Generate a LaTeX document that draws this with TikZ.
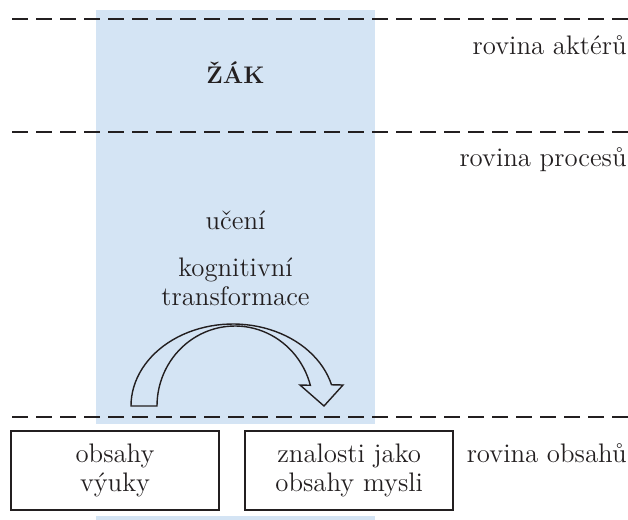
\documentclass[tikz,border=0pt]{standalone}
\usepackage{tikz}
\usetikzlibrary{positioning}
\definecolor{column}{RGB}{212,228,244}
\definecolor{ink}{RGB}{35,31,32}

\begin{document}
\begin{tikzpicture}[
        x=0.5pt, y=-0.5pt,
        node distance=12pt,
        txt/.style={font=\fontsize{13.4}{14.5}\selectfont, color=ink, align=center, inner sep=0pt},
        level/.style={txt, anchor=east},
        box/.style={txt, rectangle, draw=ink, line width=1.1pt,
            minimum width=104pt, minimum height=39.5pt},
        divider/.style={draw=ink, line width=1pt, dash pattern=on 8pt off 4pt},
        hollow/.style={draw=ink, line width=0.7pt, line join=miter}
        ]
        \useasboundingbox (0,0) rectangle (628,520);

        % modry sloupec
        \fill[column] (96,10) rectangle (375,424);
        \fill[column] (96,516) rectangle (375,520);

        % roviny
        \draw[divider] (12,19) -- (628,19);
        \draw[divider] (12,132) -- (628,132);
        \draw[divider] (12,417) -- (628,417);

        \node[txt, font=\fontsize{12}{14}\selectfont\bfseries] (zak) at (235.5,73) {ŽÁK};
        \node[txt] (uceni) at (235.5,220) {učení};
        \node[txt] (transf) at (235.5,282) {kognitivní\\transformace};

        \node[box] (obsahy) at (115,470.5) {obsahy\\výuky};
        \node[box, right=12pt of obsahy] (znalosti) {znalosti jako\\obsahy mysli};

        \node[level] (aktery) at (627,45) {rovina aktérů};
        \node[level] (procesy) at (627,160) {rovina procesů};
        \node[level] (obsahyrov) at (627,453) {rovina obsahů};

        % dutá šipka
        \draw[hollow] (131,406)
            -- plot[domain=180:15, samples=50] ({233+102*cos(\x)}, {406-82*sin(\x)})
            -- (343,385) -- (324,406) -- (300,385)
            -- plot[domain=15:180, samples=50] ({235+78*cos(\x)}, {406-80*sin(\x)})
            -- cycle;
    \end{tikzpicture}
\end{document}
